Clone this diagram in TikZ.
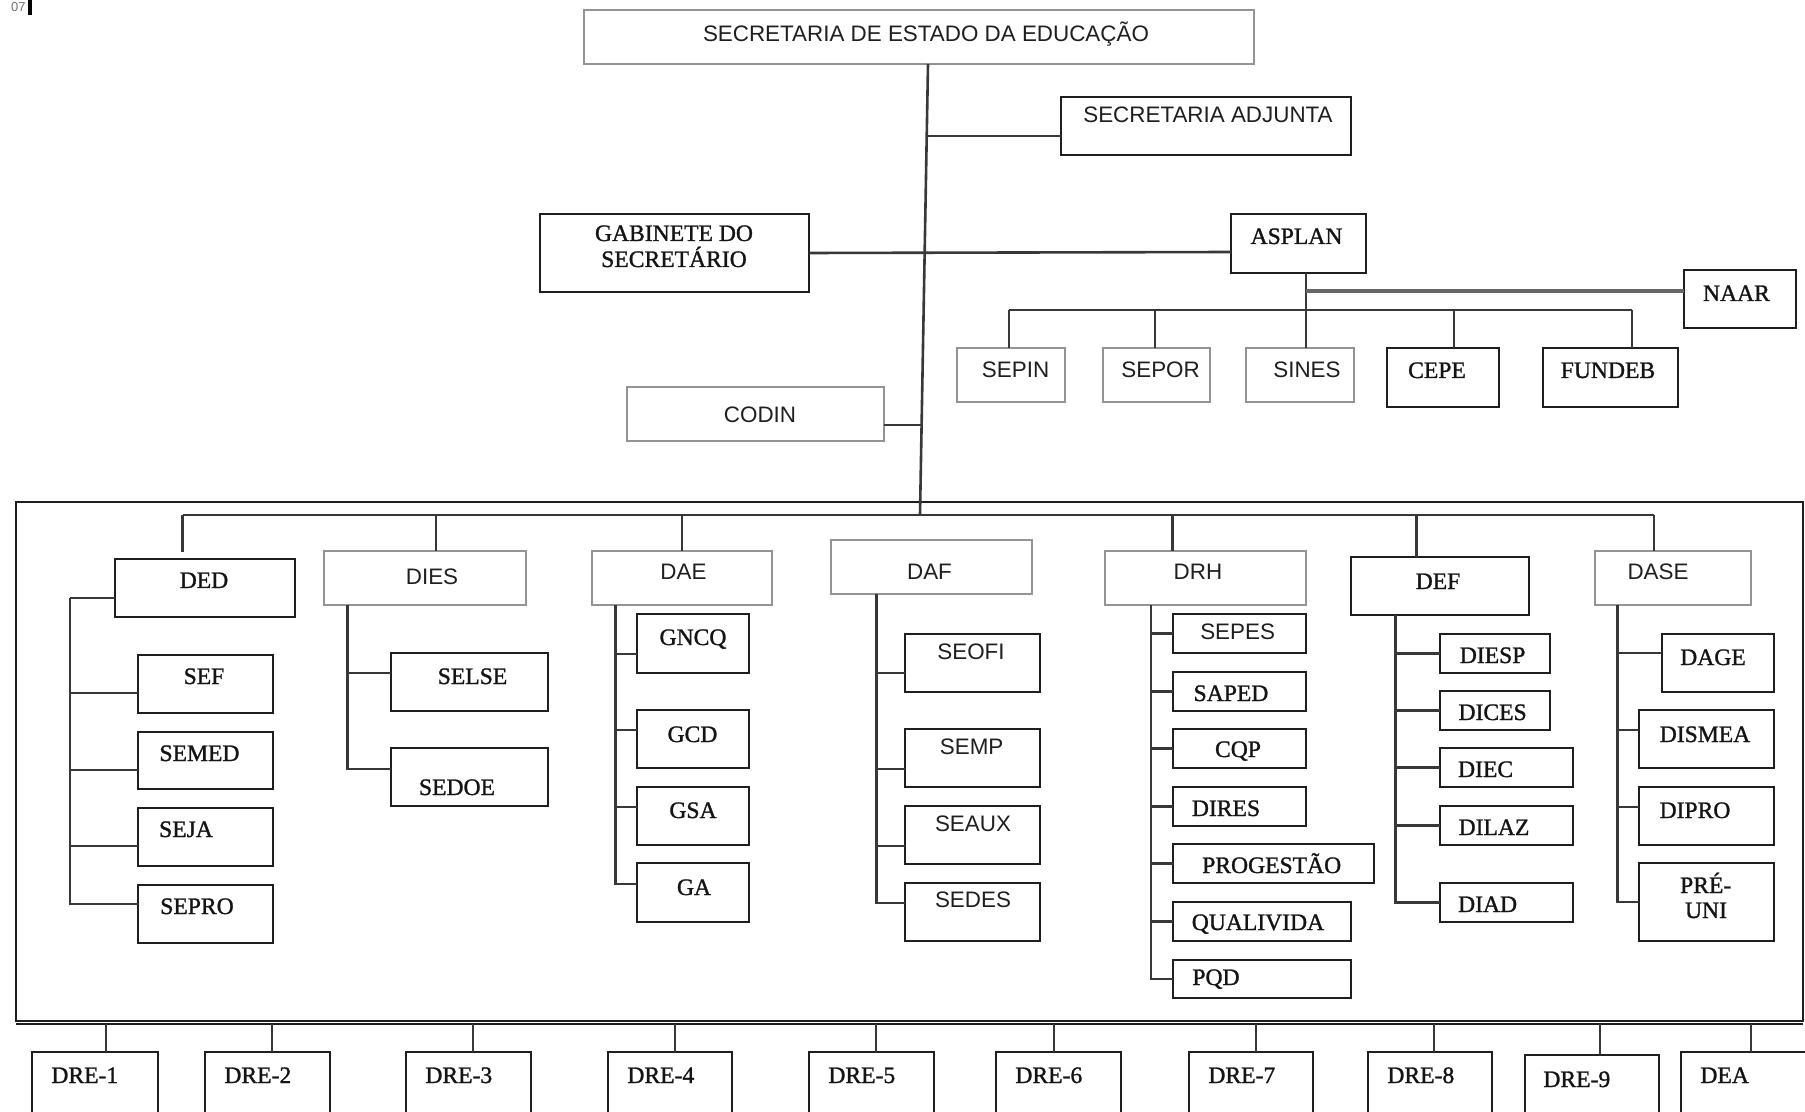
\documentclass[tikz,border=0pt]{standalone}
\usepackage{fontspec}
\newfontfamily\lsans{Liberation Sans}
\newfontfamily\lserif[FakeBold=1.2]{Liberation Serif}
\tikzset{
  gbox/.style={draw=black!42,line width=1.1pt,outer sep=0pt,inner sep=0pt},
  kbox/.style={draw=black!88,line width=1.4pt,outer sep=0pt,inner sep=0pt},
  conn/.style={draw=black!78,line width=1.3pt},
  ts/.style={font=\lsans\fontsize{11.2}{13}\selectfont,text=black!88,inner sep=0pt},
  tr/.style={font=\lserif\fontsize{11.8}{13}\selectfont,text=black!92,inner sep=0pt},
}
\newcommand\obox[6]{\pgfmathsetmacro\bw{(#5-#3)*0.5}\pgfmathsetmacro\bh{(#6-#4)*0.5}%
  \node[#2,anchor=north west,minimum width=\bw pt,minimum height=\bh pt] (#1) at (#3,#4) {};}
\newcommand\lbl[5]{\node[#2,anchor=base] (#1) at (#3,#4) {#5};}
\newcommand\kid[3]{\draw[conn] (#1) |- ([yshift=#3]#2.west);}
\begin{document}
\begin{tikzpicture}[x=0.5pt,y=-0.5pt]
\useasboundingbox (0,0) rectangle (1805,1112);
\fill[white] (0,0) rectangle (1805,1112);
\clip (0,0) rectangle (1805,1112);
% stray mark top-left
\node[font=\lsans\fontsize{6.5}{7}\selectfont,text=black!55,inner sep=0pt,anchor=base east] (stray) at (26,12) {07};
\fill[black] (27.5,0) rectangle (31.5,15);
% top level boxes
\obox{sec}{gbox}{584}{10}{1254}{64}
\obox{adj}{kbox}{1061}{97}{1351}{155}
\obox{gab}{kbox}{540}{214}{809}{292}
\obox{asplan}{kbox}{1231}{214}{1366}{273}
\obox{naar}{kbox}{1684}{270}{1796}{328}
\obox{sepin}{gbox}{957}{348}{1065}{402}
\obox{sepor}{gbox}{1103}{348}{1210}{402}
\obox{sines}{gbox}{1246}{348}{1354}{402}
\obox{cepe}{kbox}{1387}{348}{1499}{407}
\obox{fundeb}{kbox}{1543}{348}{1678}{407}
\obox{codin}{gbox}{627}{387}{884}{441}
% frame
\obox{frame}{kbox}{16}{502}{1803}{1021}
\draw[black!88,line width=1.2pt] ([yshift=-1.6pt]frame.south west) -- ([yshift=-1.6pt]frame.south east);
% directorates
\obox{ded}{kbox}{115}{559}{295}{617}
\obox{dies}{gbox}{324}{551}{526}{605}
\obox{dae}{gbox}{592}{551}{772}{605}
\obox{daf}{gbox}{831}{540}{1032}{594}
\obox{drh}{gbox}{1105}{551}{1306}{605}
\obox{def}{kbox}{1351}{557}{1529}{615}
\obox{dase}{gbox}{1595}{551}{1751}{605}
% sub units
\obox{sef}{kbox}{138}{655}{273}{713}
\obox{semed}{kbox}{138}{732}{273}{789}
\obox{seja}{kbox}{138}{808}{273}{866}
\obox{sepro}{kbox}{138}{885}{273}{943}
\obox{selse}{kbox}{391}{653}{548}{711}
\obox{sedoe}{kbox}{391}{748}{548}{806}
\obox{gncq}{kbox}{637}{614}{749}{673}
\obox{gcd}{kbox}{637}{710}{749}{768}
\obox{gsa}{kbox}{637}{787}{749}{845}
\obox{ga}{kbox}{637}{863}{749}{922}
\obox{seofi}{kbox}{905}{634}{1040}{692}
\obox{semp}{kbox}{905}{729}{1040}{787}
\obox{seaux}{kbox}{905}{806}{1040}{864}
\obox{sedes}{kbox}{905}{883}{1040}{941}
\obox{sepes}{kbox}{1173}{614}{1306}{653}
\obox{saped}{kbox}{1173}{672}{1306}{711}
\obox{cqp}{kbox}{1173}{729}{1306}{768}
\obox{dires}{kbox}{1173}{787}{1306}{826}
\obox{progestao}{kbox}{1173}{844}{1374}{883}
\obox{qualivida}{kbox}{1173}{902}{1351}{941}
\obox{pqd}{kbox}{1173}{960}{1351}{998}
\obox{diesp}{kbox}{1440}{634}{1550}{673}
\obox{dices}{kbox}{1440}{691}{1550}{730}
\obox{diec}{kbox}{1440}{748}{1573}{787}
\obox{dilaz}{kbox}{1440}{806}{1573}{845}
\obox{diad}{kbox}{1440}{883}{1573}{922}
\obox{dage}{kbox}{1662}{634}{1774}{692}
\obox{dismea}{kbox}{1639}{710}{1774}{768}
\obox{dipro}{kbox}{1639}{787}{1774}{845}
\obox{preuni}{kbox}{1639}{863}{1774}{941}
% regional boxes
\obox{dre1}{kbox}{32}{1052}{158}{1140}
\obox{dre2}{kbox}{205}{1052}{330}{1140}
\obox{dre3}{kbox}{406}{1052}{531}{1140}
\obox{dre4}{kbox}{608}{1052}{732}{1140}
\obox{dre5}{kbox}{809}{1052}{934}{1140}
\obox{dre6}{kbox}{996}{1052}{1121}{1140}
\obox{dre7}{kbox}{1189}{1052}{1313}{1140}
\obox{dre8}{kbox}{1368}{1052}{1492}{1140}
\obox{dre9}{kbox}{1525}{1055}{1659}{1140}
\obox{dea}{kbox}{1681}{1052}{1808}{1140}
% labels
\lbl{sec-t}{ts}{926}{42}{SECRETARIA DE ESTADO DA EDUCAÇÃO}
\lbl{adj-t}{ts}{1208}{123}{SECRETARIA ADJUNTA}
\lbl{gab-t1}{tr}{674}{241}{GABINETE DO}
\lbl{gab-t2}{tr}{674}{267}{SECRETÁRIO}
\lbl{codin-t}{ts}{760}{423}{CODIN}
\lbl{asplan-t}{tr}{1296.5}{244}{ASPLAN}
\lbl{naar-t}{tr}{1736.5}{301}{NAAR}
\lbl{sepin-t}{ts}{1015.6}{378}{SEPIN}
\lbl{sepor-t}{ts}{1160.6}{378}{SEPOR}
\lbl{sines-t}{ts}{1307}{378}{SINES}
\lbl{cepe-t}{tr}{1437}{378}{CEPE}
\lbl{fundeb-t}{tr}{1608}{378}{FUNDEB}
\lbl{ded-t}{tr}{204}{588}{DED}
\lbl{dies-t}{ts}{432}{584}{DIES}
\lbl{dae-t}{ts}{683.5}{580}{DAE}
\lbl{daf-t}{ts}{929.5}{580}{DAF}
\lbl{drh-t}{ts}{1198}{580}{DRH}
\lbl{def-t}{tr}{1438}{589}{DEF}
\lbl{dase-t}{ts}{1658}{580}{DASE}
\lbl{sef-t}{tr}{204}{684}{SEF}
\lbl{semed-t}{tr}{199.5}{761}{SEMED}
\lbl{seja-t}{tr}{186}{837}{SEJA}
\lbl{sepro-t}{tr}{197}{914}{SEPRO}
\lbl{selse-t}{tr}{472.5}{684}{SELSE}
\lbl{sedoe-t}{tr}{457}{795}{SEDOE}
\lbl{gncq-t}{tr}{693}{645}{GNCQ}
\lbl{gcd-t}{tr}{692.5}{742}{GCD}
\lbl{gsa-t}{tr}{693}{818}{GSA}
\lbl{ga-t}{tr}{694}{895}{GA}
\lbl{seofi-t}{ts}{971}{659}{SEOFI}
\lbl{semp-t}{ts}{971.6}{754}{SEMP}
\lbl{seaux-t}{ts}{973}{831}{SEAUX}
\lbl{sedes-t}{ts}{973}{907}{SEDES}
\lbl{sepes-t}{ts}{1237.6}{639}{SEPES}
\lbl{saped-t}{tr}{1231}{701}{SAPED}
\lbl{cqp-t}{tr}{1238}{757}{CQP}
\lbl{dires-t}{tr}{1226}{816}{DIRES}
\lbl{progestao-t}{tr}{1271.7}{873}{PROGESTÃO}
\lbl{qualivida-t}{tr}{1258}{930}{QUALIVIDA}
\lbl{pqd-t}{tr}{1216}{985}{PQD}
\lbl{diesp-t}{tr}{1492.6}{663}{DIESP}
\lbl{dices-t}{tr}{1492.6}{720}{DICES}
\lbl{diec-t}{tr}{1485.6}{777}{DIEC}
\lbl{dilaz-t}{tr}{1494}{835}{DILAZ}
\lbl{diad-t}{tr}{1487.6}{912}{DIAD}
\lbl{dage-t}{tr}{1713}{665}{DAGE}
\lbl{dismea-t}{tr}{1705}{742}{DISMEA}
\lbl{dipro-t}{tr}{1695}{818}{DIPRO}
\lbl{pre-t}{tr}{1705.7}{893}{PRÉ-}
\lbl{uni-t}{tr}{1706}{918}{UNI}
\node[tr,anchor=base west] (dre1-t) at (51,1083) {DRE-1};
\node[tr,anchor=base west] (dre2-t) at (224,1083) {DRE-2};
\node[tr,anchor=base west] (dre3-t) at (425,1083) {DRE-3};
\node[tr,anchor=base west] (dre4-t) at (627,1083) {DRE-4};
\node[tr,anchor=base west] (dre5-t) at (828,1083) {DRE-5};
\node[tr,anchor=base west] (dre6-t) at (1015,1083) {DRE-6};
\node[tr,anchor=base west] (dre7-t) at (1208,1083) {DRE-7};
\node[tr,anchor=base west] (dre8-t) at (1387,1083) {DRE-8};
\node[tr,anchor=base west] (dre9-t) at (1543,1087) {DRE-9};
\node[tr,anchor=base west] (dea-t) at (1700,1083) {DEA};
% trunk and top connectors
\coordinate (tTop) at (928,64);
\coordinate (tBot) at (920,515);
\coordinate (jADJ) at (927,136);
\coordinate (jCOD) at (921.5,425);
\draw[conn] (tTop) -- (tBot);
\draw[conn] (jADJ) -- ([yshift=-5pt]adj.west);
\draw[conn] (gab.east) -- ([yshift=-4.25pt]asplan.west);
\draw[conn] ([yshift=-5.5pt]codin.east) -- (jCOD);
% ASPLAN group
\coordinate (aTop) at (1306,273);
\coordinate (aN) at (1306,291);
\coordinate (aBL) at (1009,310);
\coordinate (aB2) at (1155,310);
\coordinate (aB4) at (1454,310);
\coordinate (aBR) at (1632,310);
\draw[conn] (aTop) -- (aTop |- sines.north);
\draw[conn,black!60,line width=1.6pt] (aN) -- ([yshift=4pt]naar.west);
\draw[conn] (aBL) -- (aBR);
\draw[conn] (aBL) -- (aBL |- sepin.north);
\draw[conn] (aB2) -- (aB2 |- sepor.north);
\draw[conn] (aB4) -- (aB4 |- cepe.north);
\draw[conn] (aBR) -- (aBR |- fundeb.north);
% inner bus
\coordinate (bL) at (182.5,515);
\coordinate (bDIES) at (436,515);
\coordinate (bDAE) at (682,515);
\coordinate (bDRH) at (1172.7,515);
\coordinate (bDEF) at (1416.6,515);
\coordinate (bR) at (1654,515);
\draw[conn] (bL) -- (bR);
\draw[conn] (bL) -- ([yshift=3.5pt]bL |- ded.north);
\draw[conn] (bDIES) -- (bDIES |- dies.north);
\draw[conn] (bDAE) -- (bDAE |- dae.north);
\draw[conn] (bDRH) -- (bDRH |- drh.north);
\draw[conn] (bDEF) -- (bDEF |- def.north);
\draw[conn] (bR) -- (bR |- dase.north);
% DED
\coordinate (dedsp) at (70,598);
\draw[conn] ([yshift=-5pt]ded.west) -- (dedsp);
\kid{dedsp}{sef}{-4.5pt}
\kid{dedsp}{semed}{-4.75pt}
\kid{dedsp}{seja}{-4.5pt}
\kid{dedsp}{sepro}{5pt}
% DIES
\coordinate (diessp) at (347.3,605);
\kid{diessp}{selse}{4.5pt}
\kid{diessp}{sedoe}{4pt}
% DAE
\coordinate (daesp) at (615.4,605);
\kid{daesp}{gncq}{-5.25pt}
\kid{daesp}{gcd}{4.5pt}
\kid{daesp}{gsa}{4.5pt}
\kid{daesp}{ga}{4.25pt}
% DAF
\coordinate (dafsp) at (876.6,594);
\kid{dafsp}{seofi}{-5pt}
\kid{dafsp}{semp}{-5.5pt}
\kid{dafsp}{seaux}{-5.5pt}
\kid{dafsp}{sedes}{4.5pt}
% DRH
\coordinate (drhsp) at (1150.9,605);
\kid{drhsp}{sepes}{0pt}
\kid{drhsp}{saped}{0pt}
\kid{drhsp}{cqp}{0pt}
\kid{drhsp}{dires}{0pt}
\kid{drhsp}{progestao}{0pt}
\kid{drhsp}{qualivida}{0pt}
\kid{drhsp}{pqd}{0pt}
% DEF
\coordinate (defsp) at (1395.4,615);
\kid{defsp}{diesp}{0pt}
\kid{defsp}{dices}{0pt}
\kid{defsp}{diec}{0pt}
\kid{defsp}{dilaz}{0pt}
\kid{defsp}{diad}{0pt}
% DASE
\coordinate (dasesp) at (1617.6,605);
\kid{dasesp}{dage}{5pt}
\kid{dasesp}{dismea}{4.5pt}
\kid{dasesp}{dipro}{4.5pt}
\kid{dasesp}{preuni}{0pt}
% regional drops
\foreach \n/\x in {dre1/106,dre2/272,dre3/473,dre4/675,dre5/876,dre6/1054,dre7/1256,dre8/1434,dre9/1600,dea/1751}{
  \coordinate (d-\n) at (\x,1024);
  \draw[conn] (d-\n) -- (d-\n |- \n.north);
}
\end{tikzpicture}
\end{document}
